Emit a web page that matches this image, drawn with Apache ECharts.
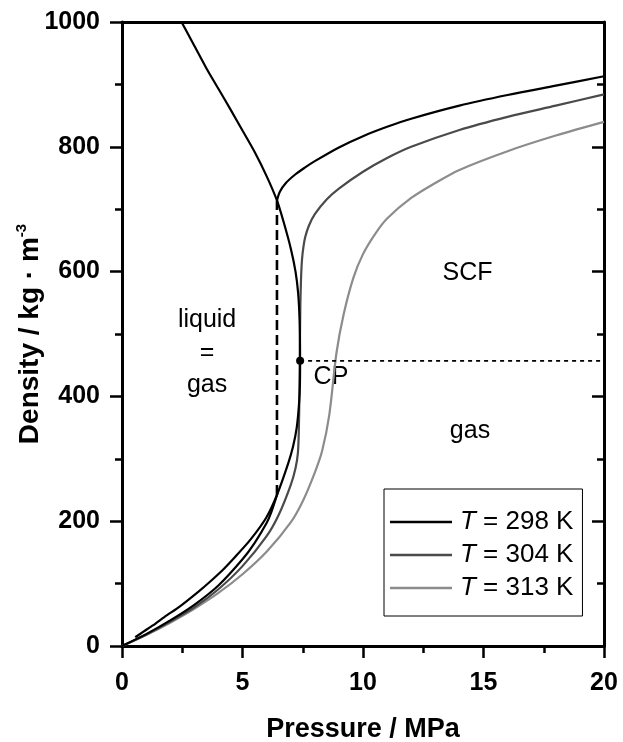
<!DOCTYPE html>
<html><head><meta charset="utf-8">
<script src="https://cdn.jsdelivr.net/npm/echarts/dist/echarts.min.js"></script>
<style>html,body{margin:0;padding:0;background:#fff}#c{width:623px;height:742px}</style>
</head><body><div id="c"></div>
<script>
// Saturation (coexistence) curve, liquid side -> CP -> vapour side
const satP = [2.47, 3.00, 3.50, 4.00, 4.50, 5.00, 5.50, 6.00, 6.43, 6.71, 7.01, 7.20, 7.31, 7.37, 7.39, 7.38, 7.34, 7.25, 7.10, 6.90, 6.43, 5.99, 5.32, 4.70, 4.16, 3.65, 3.20, 2.42, 1.78, 1.28, 0.89, 0.55];
const satD = [1000, 962, 926, 893, 860, 826, 792, 753, 714, 679, 636, 600, 565, 520, 457, 415, 385, 350, 320, 293, 242, 206, 170, 143, 121, 103, 88, 64, 47, 33, 23, 14];
// T = 298 K, gas branch and liquid branch
const p298g = [0, 1, 2, 3, 4, 5, 5.5, 6, 6.2, 6.43];
const d298g = [0, 19, 41, 66, 97, 139, 165, 197, 215, 242];
const p298l = [6.43, 6.55, 6.8, 7.2, 7.6, 8, 9, 10, 11, 12, 14, 16, 18, 20];
const d298l = [714, 728, 742, 756, 767, 777, 799, 817, 832, 845, 866, 883, 898, 913];
// jump (dashed) at the vapour pressure
const pJump = [6.43, 6.43];
const dJump = [242, 714];
// T = 304 K
const p304 = [0, 1, 2, 3, 4, 5, 6, 6.5, 7, 7.2, 7.3, 7.34, 7.36, 7.38, 7.40, 7.43, 7.47, 7.53, 7.6, 7.75, 8, 8.5, 9, 10, 11, 12, 14, 16, 18, 20];
const d304 = [0, 18, 39, 62, 91, 128, 176, 210, 258, 285, 310, 350, 400, 480, 545, 590, 620, 640, 655, 673, 692, 716, 733, 760, 782, 800, 827, 848, 866, 884];
// T = 313 K
const p313 = [0, 1, 2, 3, 4, 5, 6, 7, 7.5, 8, 8.3, 8.6, 8.9, 9.2, 9.6, 10, 10.5, 11, 12, 13, 14, 16, 18, 20];
const d313 = [0, 17.6, 37.4, 59.6, 85, 115, 151, 198, 232, 278, 312, 370, 470, 532, 590, 628, 660, 685, 718, 742, 763, 793, 818, 840];
// critical point and its isochore
const cpP = [7.39];
const cpD = [457];
const isoP = [7.39, 20];
const isoD = [457, 457];
// axes
const xTicks = [0, 5, 10, 15, 20];
const yTicks = [0, 200, 400, 600, 800, 1000];
const seriesNames = ['T = 298 K', 'T = 304 K', 'T = 313 K'];

const FONT = "'Liberation Sans', Arial, sans-serif";
const zip = (xs, ys) => xs.map((x, i) => [x, ys[i]]);
const curve = (name, data, color, extra) => Object.assign({
  type: 'line', name, data, symbol: 'none', showSymbol: false, smooth: 0.3,
  lineStyle: { color, width: 2.2 }, itemStyle: { color }, silent: true, animation: false
}, extra || {});

const chart = echarts.init(document.getElementById('c'), null, { renderer: 'canvas' });
const axisLine = { show: true, onZero: false, lineStyle: { color: '#000', width: 3 } };
const tick = (inside) => ({ show: true, inside, length: 12, lineStyle: { color: '#000', width: 2.5 } });
const minor = (inside) => ({ show: true, inside, length: 7, splitNumber: 2, lineStyle: { color: '#000', width: 2.5 } });

chart.setOption({
  animation: false,
  backgroundColor: '#fff',
  textStyle: { fontFamily: FONT },
  grid: { left: 122, right: 19, top: 22, bottom: 96, containLabel: false, outerBoundsMode: 'none' },
  xAxis: [{
    type: 'value', position: 'bottom', min: xTicks[0], max: xTicks[xTicks.length - 1], interval: 5,
    axisLine, axisTick: tick(false), minorTick: minor(false), splitLine: { show: false },
    axisLabel: { margin: 25, color: '#000', fontSize: 25, fontWeight: 'bold', fontFamily: FONT, formatter: v => String(v) },
    name: 'Pressure / MPa', nameLocation: 'middle', nameGap: 70, nameMoveOverlap: false,
    nameTextStyle: { color: '#000', fontSize: 27, fontWeight: 'bold', fontFamily: FONT }
  }, {
    type: 'value', position: 'top', min: 0, max: 20, interval: 5,
    axisLine, axisTick: { show: false }, axisLabel: { show: false }, splitLine: { show: false }
  }],
  yAxis: [{
    type: 'value', position: 'left', min: yTicks[0], max: yTicks[yTicks.length - 1], interval: 200,
    axisLine, axisTick: tick(false), minorTick: minor(false), splitLine: { show: false },
    axisLabel: { margin: 22, color: '#000', fontSize: 25, fontWeight: 'bold', fontFamily: FONT, formatter: v => String(v) },
    name: '{a|Density / kg · m}{s|-3}', nameLocation: 'middle', nameGap: 76, nameRotate: 90, nameMoveOverlap: false,
    nameTextStyle: {
      color: '#000', fontSize: 28, fontWeight: 'bold', fontFamily: FONT,
      rich: {
        a: { fontSize: 28, fontWeight: 'bold', fontFamily: FONT, color: '#000', lineHeight: 32 },
        s: { fontSize: 15, fontWeight: 'bold', fontFamily: FONT, color: '#000', verticalAlign: 'top', lineHeight: 32 }
      }
    }
  }, {
    type: 'value', position: 'right', min: 0, max: 1000, interval: 200,
    axisLine, axisTick: tick(true), minorTick: minor(true), axisLabel: { show: false }, splitLine: { show: false }
  }],
  legend: {
    data: seriesNames, orient: 'vertical', left: 384, top: 489,
    padding: [20, 9, 15, 6], itemGap: 7, itemWidth: 62, itemHeight: 2.4, icon: 'rect',
    backgroundColor: '#fff', borderColor: '#000', borderWidth: 1, borderRadius: 0,
    selectedMode: false,
    formatter: n => '{i|T}' + n.slice(1),
    textStyle: {
      color: '#000', fontSize: 26, fontFamily: FONT, padding: [0, 0, 0, 3],
      rich: { i: { fontStyle: 'italic', fontSize: 26, fontFamily: FONT, color: '#000' } }
    }
  },
  series: [
    curve('T = 313 K', zip(p313, d313), '#8c8c8c'),
    curve('T = 304 K', zip(p304, d304), '#4a4a4a'),
    curve('T = 298 K', zip(p298g, d298g), '#000'),
    curve('T = 298 K', zip(p298l, d298l), '#000'),
    curve('saturation', zip(satP, satD), '#000', { smooth: 0.25 }),
    curve('jump', zip(pJump, dJump), '#000', { smooth: false, lineStyle: { color: '#000', width: 2.6, type: [10, 5] } }),
    curve('isochore', zip(isoP, isoD), '#000', { smooth: false, lineStyle: { color: '#000', width: 1.6, type: [4, 4] } }),
    {
      type: 'scatter', name: 'CP', data: zip(cpP, cpD), symbol: 'circle', symbolSize: 8,
      itemStyle: { color: '#000', opacity: 1 }, silent: true, z: 5
    },
    {
      type: 'scatter', name: 'notes', symbolSize: 0, silent: true,
      itemStyle: { opacity: 1 },
      data: [
        { name: 'liquid\n=\ngas', value: [3.53, 470] },
        { name: 'SCF', value: [14.34, 597] },
        { name: 'gas', value: [14.44, 344] },
        { name: 'CP', value: [8.67, 431] }
      ],
      label: {
        show: true, position: 'inside', formatter: p => p.name, color: '#000', opacity: 1,
        fontSize: 25, fontFamily: FONT, lineHeight: 32.5, align: 'center'
      }
    }
  ]
});
</script>
</body></html>
